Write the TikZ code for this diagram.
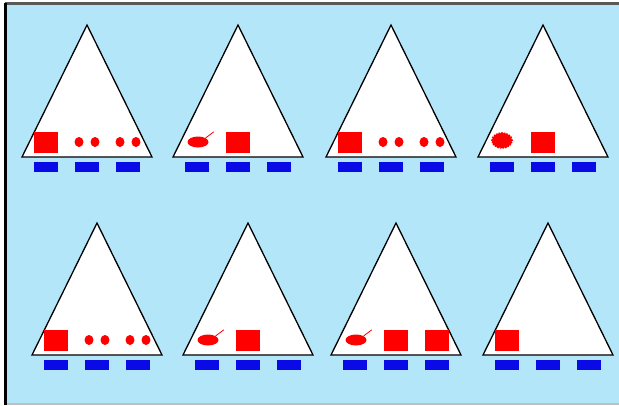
\documentclass[tikz,border=0pt]{standalone}
\usetikzlibrary{positioning,shapes.geometric}
\definecolor{skyback}{HTML}{B4E6FA}
\definecolor{barblue}{HTML}{0A0AE6}
\begin{document}
\begin{tikzpicture}[x=1pt, y=-1pt,
      tent/.style={draw=black, fill=white, line width=1.3pt, line join=miter},
      bar/.style={rectangle, fill=barblue, minimum width=24pt, minimum height=10pt, inner sep=0pt},
      box/.style={rectangle, fill=red, minimum width=24pt, minimum height=21pt, inner sep=0pt},
      dot/.style={ellipse, fill=red, minimum width=9pt, minimum height=10pt, inner sep=0pt},
      pan/.style={ellipse, fill=red, minimum width=21pt, minimum height=11pt, inner sep=0pt},
      handle/.style={draw=red, line width=0.8pt, line cap=round},
      burst/.style={ellipse, fill=red, draw=red, densely dotted, line width=1.6pt, minimum width=20pt, minimum height=15pt, inner sep=0pt}
  ]
    \useasboundingbox (0,0) rectangle (619,405);
    \fill[white] (0,0) rectangle (619,405);
    \fill[skyback] (5,4) rectangle (619,403);
    \fill[gray!70!black] (5,2) rectangle (619,5);
    \fill[black] (4,3) rectangle (7,405);
    \fill[gray!50] (7,403) rectangle (619,405);

    % tents with their three bars
    \foreach \n/\cx/\by in {1/87/157, 2/238/157, 3/391/157, 4/543/157, 5/97/355, 6/248/355, 7/396/355, 8/548/355} {
      \draw[tent] (\cx-65,\by) -- (\cx,\by-132) -- (\cx+65,\by) -- cycle;
      \foreach \s/\dx in {a/-41, b/0, c/41}
        \node[bar] (bar\n\s) at (\cx+\dx,\by+10) {};
    }

    % squares
    \foreach \q in {1a,2b,3a,4b,5a,6b,7b,7c,8a}
      \node[box, above=9pt of bar\q] (box\q) {};

    % pairs of dots
    \foreach \d in {1b,1c,3b,3c,5b,5c} {
      \node[dot] (dotl\d) at ([xshift=-8pt,yshift=25pt]bar\d) {};
      \node[dot] (dotr\d) at ([xshift=8pt,yshift=25pt]bar\d) {};
    }

    % pans
    \foreach \p in {2a,6a,7a} {
      \node[pan] (pan\p) at ([xshift=1pt,yshift=25pt]bar\p) {};
      \draw[handle] (pan\p.north east) -- ++(8,-6);
    }

    \node[burst] (burst4a) at ([yshift=26.5pt]bar4a) {};
  \end{tikzpicture}
\end{document}
